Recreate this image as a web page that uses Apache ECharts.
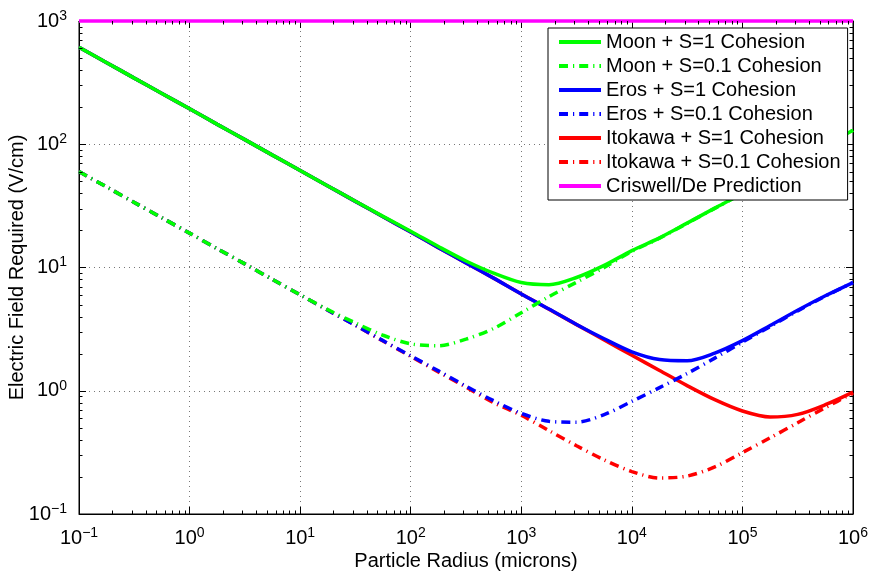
<!DOCTYPE html>
<html><head><meta charset="utf-8">
<script src="https://cdn.jsdelivr.net/npm/echarts@6/dist/echarts.min.js"></script>
<style>html,body{margin:0;padding:0;background:#fff}#c{width:869px;height:571px}</style>
</head><body><div id="c"></div>
<script>
// Particle radius (microns) sample points (quarter decades)
const radius = [0.1, 0.178, 0.316, 0.562, 1, 1.78, 3.16, 5.62, 10, 17.8, 31.6, 56.2, 100, 178, 316, 562, 1000, 1780, 3160, 5620, 1e4, 1.78e4, 3.16e4, 5.62e4, 1e5, 1.78e5, 3.16e5, 5.62e5, 1e6];
// Electric field required (V/cm)
const moonS1     = [612, 459, 344, 258, 194, 145, 109, 81.6, 61.2, 45.9, 34.5, 26.0, 19.7, 14.8, 11.3, 9.0, 7.55, 7.25, 8.3, 10.4, 13.7, 17.4, 22.9, 30.3, 40, 54, 72, 97, 130];
const moonS01    = [60, 45, 33.7, 25.3, 19.0, 14.2, 10.7, 8.0, 6.0, 4.55, 3.55, 2.82, 2.4, 2.32, 2.62, 3.2, 4.3, 5.8, 7.6, 10.0, 13.5, 17.3, 22.8, 30.2, 40, 54, 72, 97, 130];
const erosS1     = [612, 459, 344, 258, 194, 145, 109, 81.6, 61.2, 45.9, 34.4, 25.8, 19.4, 14.5, 10.9, 8.2, 6.1, 4.6, 3.45, 2.64, 2.07, 1.79, 1.75, 2.02, 2.55, 3.38, 4.5, 5.9, 7.55];
const erosS01    = [60, 45, 33.7, 25.3, 19.0, 14.2, 10.7, 8.0, 6.0, 4.5, 3.4, 2.55, 1.92, 1.45, 1.09, 0.83, 0.655, 0.565, 0.555, 0.64, 0.82, 1.06, 1.38, 1.84, 2.48, 3.32, 4.45, 5.85, 7.55];
const itokawaS1  = [612, 459, 344, 258, 194, 145, 109, 81.6, 61.2, 45.9, 34.4, 25.8, 19.4, 14.5, 10.9, 8.2, 6.1, 4.59, 3.44, 2.58, 1.94, 1.46, 1.1, 0.846, 0.685, 0.612, 0.643, 0.77, 0.975];
const itokawaS01 = [60, 45, 33.7, 25.3, 19.0, 14.2, 10.7, 8.0, 6.0, 4.5, 3.4, 2.53, 1.9, 1.42, 1.07, 0.80, 0.632, 0.475, 0.358, 0.275, 0.221, 0.196, 0.203, 0.241, 0.315, 0.415, 0.55, 0.73, 0.955];
const criswellValue = 1000;

const seriesNames = ['Moon + S=1 Cohesion','Moon + S=0.1 Cohesion','Eros + S=1 Cohesion','Eros + S=0.1 Cohesion','Itokawa + S=1 Cohesion','Itokawa + S=0.1 Cohesion','Criswell/De Prediction'];
const xTickExps = [-1, 0, 1, 2, 3, 4, 5, 6];
const yTickExps = [-1, 0, 1, 2, 3];
const xMin = Math.pow(10, xTickExps[0]), xMax = Math.pow(10, xTickExps[xTickExps.length-1]);
const yMin = Math.pow(10, yTickExps[0]), yMax = Math.pow(10, yTickExps[yTickExps.length-1]);

const FONT = '"Liberation Sans", Arial, Helvetica, sans-serif';
const pair = arr => radius.map((r, i) => [r, arr[i]]);

function minorVals(exps){
  const out = [];
  for (let i = 0; i < exps.length - 1; i++) for (let k = 2; k <= 9; k++) out.push(k * Math.pow(10, exps[i]));
  return out;
}
const xMinor = minorVals(xTickExps).map(v => [v, yMin]);
const yMinor = minorVals(yTickExps).map(v => [xMin, v]);

function supLabel(v){
  const e = Math.round(Math.log10(v));
  return '{b|10}{s|' + (e < 0 ? '\u2212' + (-e) : e) + '}';
}
const rich = {
  b: {fontSize: 20, lineHeight: 24, verticalAlign: 'middle', fontFamily: FONT, color: '#000'},
  s: {fontSize: 14, lineHeight: 10, verticalAlign: 'top', fontFamily: FONT, color: '#000'}
};
const DASHDOT = [9, 5, 1.2, 5];
function lineSeries(name, data, color, dash, z){
  return {name, type: 'line', data: pair(data), smooth: 0.3, symbol: 'none', z,
    lineStyle: {color, width: 3.5, type: dash ? DASHDOT : 'solid', cap: 'butt'},
    itemStyle: {color}};
}
const tickLine = (x1,y1,x2,y2) => ({type:'line', shape:{x1,y1,x2,y2}, style:{stroke:'#000', lineWidth:1}});

const chart = echarts.init(document.getElementById('c'), null, {renderer: 'canvas'});
chart.setOption({
  animation: false,
  backgroundColor: '#fff',
  textStyle: {fontFamily: FONT},
  grid: {left: 79, right: 16, top: 21, bottom: 57, show: true, borderColor: '#000', borderWidth: 1,
    backgroundColor: 'transparent', containLabel: false, outerBoundsMode: 'none'},
  legend: {
    data: seriesNames, orient: 'vertical', left: 548, top: 28,
    backgroundColor: '#fff', borderColor: '#000', borderWidth: 1,
    padding: [4, 7, 4, 9], itemGap: 4, itemWidth: 42, itemHeight: 14,
    itemStyle: {opacity: 0},
    lineStyle: {width: 4},
    textStyle: {fontSize: 20, color: '#000', fontFamily: FONT, lineHeight: 20},
    selectedMode: false
  },
  xAxis: [{
    type: 'log', logBase: 10, min: xMin, max: xMax, position: 'bottom',
    name: 'Particle Radius (microns)', nameLocation: 'middle', nameGap: 37, nameMoveOverlap: false,
    nameTextStyle: {fontSize: 20, color: '#000', fontFamily: FONT},
    axisLine: {show: true, lineStyle: {color: '#000', width: 1}},
    axisTick: {show: true, inside: true, length: 7, lineStyle: {color: '#000'}},
    axisLabel: {formatter: supLabel, rich, margin: 12, color: '#000'},
    splitLine: {show: true, lineStyle: {color: '#777', width: 1, type: [1, 4]}}
  }, {
    type: 'log', logBase: 10, min: xMin, max: xMax, position: 'top',
    axisLine: {show: true, lineStyle: {color: '#000'}},
    axisTick: {show: true, inside: true, length: 7, lineStyle: {color: '#000'}},
    axisLabel: {show: false}, splitLine: {show: false}
  }],
  yAxis: [{
    type: 'log', logBase: 10, min: yMin, max: yMax, position: 'left',
    name: 'Electric Field Required (V/cm)', nameLocation: 'middle', nameGap: 52, nameRotate: 90, nameMoveOverlap: false,
    nameTextStyle: {fontSize: 20, color: '#000', fontFamily: FONT},
    axisLine: {show: true, lineStyle: {color: '#000', width: 1}},
    axisTick: {show: true, inside: true, length: 7, lineStyle: {color: '#000'}},
    axisLabel: {formatter: supLabel, rich, margin: 12, color: '#000'},
    splitLine: {show: true, lineStyle: {color: '#777', width: 1, type: [1, 4]}}
  }, {
    type: 'log', logBase: 10, min: yMin, max: yMax, position: 'right',
    axisLine: {show: true, lineStyle: {color: '#000'}},
    axisTick: {show: true, inside: true, length: 7, lineStyle: {color: '#000'}},
    axisLabel: {show: false}, splitLine: {show: false}
  }],
  series: [
    {type: 'custom', name: 'xMinor', silent: true, data: xMinor, z: 5, clip: false,
      renderItem: (p, api) => {
        const v = api.value(0);
        const b = api.coord([v, yMin]), t = api.coord([v, yMax]);
        const x = Math.round(b[0]) + 0.5;
        return {type: 'group', children: [tickLine(x, b[1], x, b[1]-3.5), tickLine(x, t[1], x, t[1]+3.5)]};
      }},
    {type: 'custom', name: 'yMinor', silent: true, data: yMinor, z: 5, clip: false,
      renderItem: (p, api) => {
        const v = api.value(1);
        const l = api.coord([xMin, v]), r = api.coord([xMax, v]);
        const y = Math.round(l[1]) + 0.5;
        return {type: 'group', children: [tickLine(l[0], y, l[0]+3.5, y), tickLine(r[0], y, r[0]-3.5, y)]};
      }},
    lineSeries(seriesNames[5], itokawaS01, '#ff0000', true, 2),
    lineSeries(seriesNames[4], itokawaS1, '#ff0000', false, 2),
    lineSeries(seriesNames[3], erosS01, '#0000ff', true, 2),
    lineSeries(seriesNames[2], erosS1, '#0000ff', false, 2),
    lineSeries(seriesNames[1], moonS01, '#00ff00', true, 2),
    lineSeries(seriesNames[0], moonS1, '#00ff00', false, 2),
    {name: seriesNames[6], type: 'line', symbol: 'none', clip: false, z: 3,
      data: [[radius[0], criswellValue], [radius[radius.length-1], criswellValue]],
      lineStyle: {color: '#ff00ff', width: 3.5}, itemStyle: {color: '#ff00ff'}}
  ]
});
</script></body></html>
